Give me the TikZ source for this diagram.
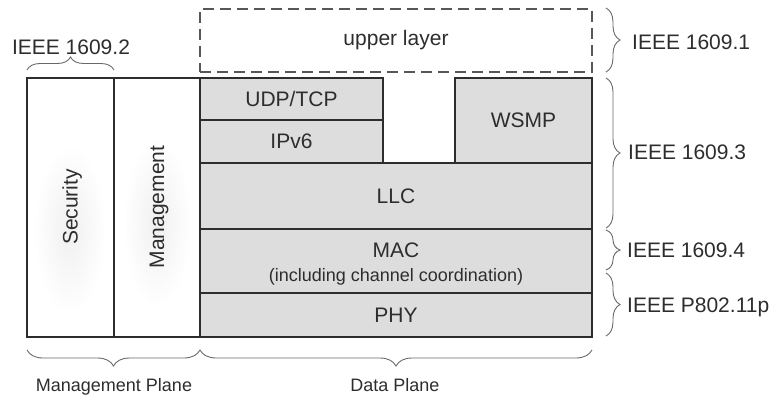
\documentclass[tikz,border=0pt]{standalone}
\usepackage{fontspec}
\setmainfont{Liberation Sans}
\usetikzlibrary{decorations.pathreplacing}
\definecolor{boxfill}{RGB}{221,221,221}
\definecolor{linecol}{RGB}{45,45,45}
\definecolor{txtcol}{RGB}{45,45,45}
\definecolor{bracecol}{RGB}{105,105,105}
\tikzset{
  layer/.style={draw=linecol, line width=1.4pt, fill=boxfill, inner sep=0pt, text=txtcol, font=\fontsize{21}{24}\selectfont},
  plane/.style={draw=linecol, line width=1.4pt, inner sep=0pt},
  upperbox/.style={draw=linecol!80, line width=1.8pt, dash pattern=on 11pt off 6pt, inner sep=0pt, text=txtcol, font=\fontsize{21}{24}\selectfont},
  lbl/.style={text=txtcol, font=\fontsize{21}{24}\selectfont, inner sep=0pt, text depth=0pt},
  smalllbl/.style={text=txtcol, font=\fontsize{18}{21}\selectfont, inner sep=0pt, text depth=0pt},
  bracedeco/.style={draw=bracecol, line width=0.9pt, decorate, decoration={brace, amplitude=#1}},
  bracedeco/.default=13,
  glow/.style={inner color=black!6, outer color=white},
}
\begin{document}
\begin{tikzpicture}[x=1pt, y=-1pt]
\useasboundingbox (0,0) rectangle (776,398);
% faint glows behind vertical labels
\shade[glow] (70,230) ellipse [x radius=36, y radius=85];
\shade[glow] (157,223) ellipse [x radius=34, y radius=85];
% management plane columns
\node[plane, minimum width=87, minimum height=259] (sec) at (70.5,207.5) {};
\node[plane, minimum width=86, minimum height=259] (mgmt) at (157,207.5) {};
\node[lbl, rotate=90] (sectxt) at (70,207) {Security};
\node[lbl, rotate=90] (mgmttxt) at (157,207) {Management};
% data plane layers
\node[upperbox, minimum width=392, minimum height=63] (upper) at (396,40.5) {upper layer};
\node[layer, minimum width=183, minimum height=42] (udp) at (291.5,99) {UDP/TCP};
\node[layer, minimum width=183, minimum height=43] (ipv6) at (291.5,141.5) {IPv6};
\node[layer, minimum width=137, minimum height=85] (wsmp) at (523.5,120.5) {WSMP};
\node[layer, minimum width=392, minimum height=66] (llc) at (396,196) {LLC};
\node[layer, minimum width=392, minimum height=64] (mac) at (396,261) {};
\node[lbl] (mactxt) at (396,250) {MAC};
\node[smalllbl] (macsub) at (396,275) {(including channel coordination)};
\node[layer, minimum width=392, minimum height=44] (phy) at (396,315) {PHY};
% braces
\coordinate (b2a) at (27,70);   \coordinate (b2b) at (114,70);
\coordinate (b1a) at (606,8);   \coordinate (b1b) at (606,72);
\coordinate (b3a) at (606,78);  \coordinate (b3b) at (606,228);
\coordinate (b4a) at (606,230); \coordinate (b4b) at (606,270);
\coordinate (b5a) at (606,273); \coordinate (b5b) at (606,336);
\coordinate (mpa) at (200,350); \coordinate (mpb) at (27,350);
\coordinate (dpa) at (592,350); \coordinate (dpb) at (200,350);
\draw[bracedeco] (b2a) -- (b2b);
\draw[bracedeco=14] (b1a) -- (b1b);
\draw[bracedeco=14] (b3a) -- (b3b);
\draw[bracedeco=14] (b4a) -- (b4b);
\draw[bracedeco=14] (b5a) -- (b5b);
\draw[bracedeco=16] (mpa) -- (mpb);
\draw[bracedeco=16] (dpa) -- (dpb);
% labels
\node[lbl] (l2) at (71,47) {IEEE 1609.2};
\node[lbl, anchor=west] (l1) at (632,42) {IEEE 1609.1};
\node[lbl, anchor=west] (l3) at (628,152) {IEEE 1609.3};
\node[lbl, anchor=west] (l4) at (627,250) {IEEE 1609.4};
\node[lbl, anchor=west] (l5) at (627,305) {IEEE P802.11p};
\node[smalllbl] (mplbl) at (114,385) {Management Plane};
\node[smalllbl] (dplbl) at (395,385) {Data Plane};
\end{tikzpicture}
\end{document}
